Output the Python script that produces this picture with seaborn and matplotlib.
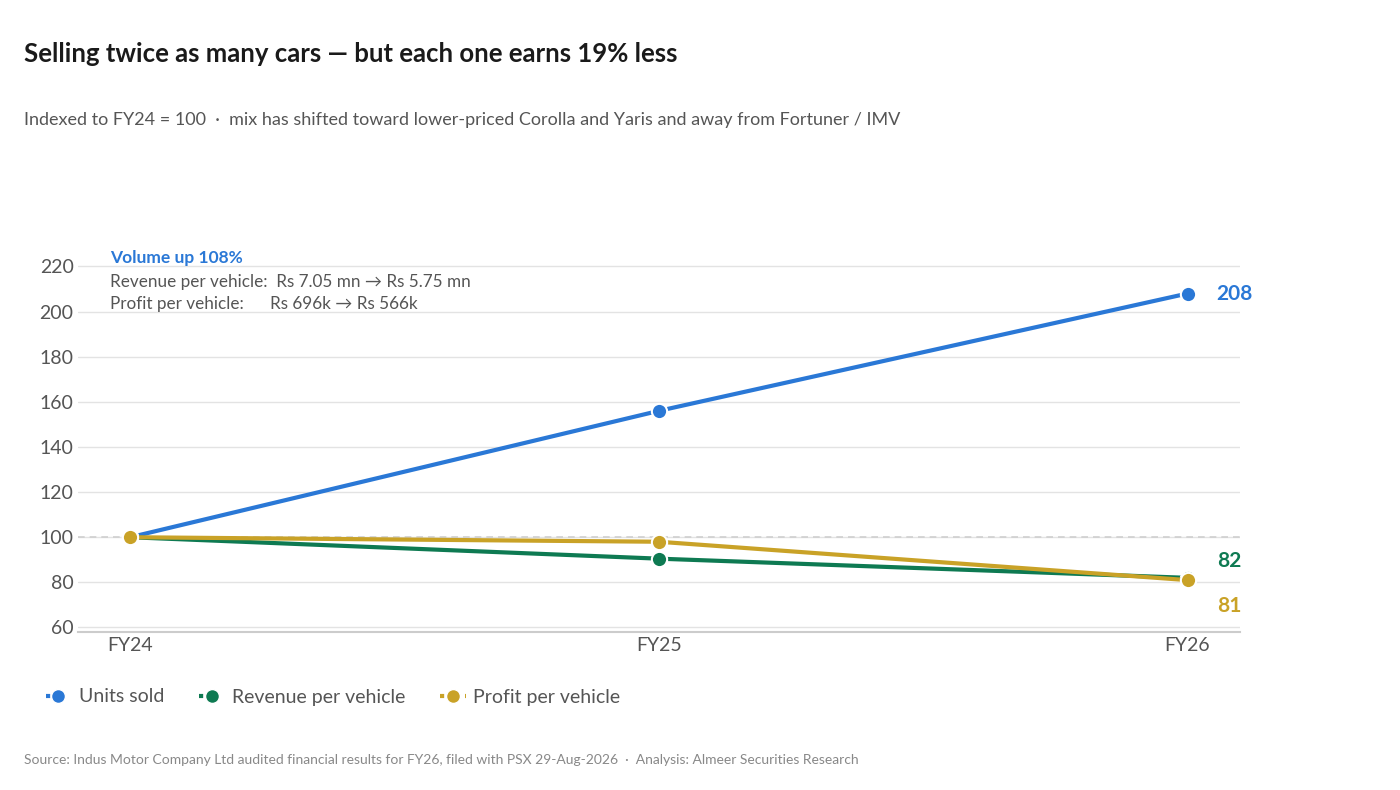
import matplotlib
matplotlib.use("Agg")
import matplotlib.pyplot as plt
import seaborn as sns
import pandas as pd
from matplotlib.lines import Line2D

# datos
years = ["FY24", "FY25", "FY26"]
units_sold = [100, 156, 208]
revenue_per_vehicle = [100, 90.5, 82]
profit_per_vehicle = [100, 98, 81]

series_names = ["Units sold", "Revenue per vehicle", "Profit per vehicle"]
colors = ["#2a78d6", "#0e7a52", "#c9a227"]
end_labels = ["208", "82", "81"]
end_offsets = [0, 12, -19]  # separar 82 y 81

sns.set_theme(style="white")
plt.rcParams["font.family"] = ["Lato", "DejaVu Sans"]

rows = []
for name, vals in zip(series_names, [units_sold, revenue_per_vehicle, profit_per_vehicle]):
    for i, v in enumerate(vals):
        rows.append({"x": i, "year": years[i], "value": v, "series": name})
df = pd.DataFrame(rows)

fig = plt.figure(figsize=(14, 7.9), dpi=100)
ax = fig.add_axes([0.056, 0.2, 0.83, 0.477])

for y in range(60, 221, 20):
    ax.axhline(y, color="#e3e3e3", lw=1, zorder=0)
ax.axhline(100, color="#cfcfcf", lw=1.2, ls=(0, (4, 3)), zorder=0)

sns.lineplot(data=df, x="x", y="value", hue="series", palette=colors,
             hue_order=series_names, lw=3, marker="o", markersize=11,
             markeredgecolor="white", markeredgewidth=1.5, ax=ax, legend=False)

for name, c, lab, off in zip(series_names, colors, end_labels, end_offsets):
    v = df[(df.series == name) & (df.x == 2)]["value"].iloc[0]
    ax.annotate(lab, (2, v), xytext=(21, off), textcoords="offset points",
                color=c, fontsize=15, fontweight="bold", va="center")

ax.set_xlim(-0.098, 2.1)
ax.set_ylim(58, 225)
ax.set_xticks(range(3))
ax.set_xticklabels(years)
ax.set_yticks(range(60, 221, 20))
ax.tick_params(axis="both", labelsize=14, labelcolor="#555555", length=0)
ax.set_xlabel("")
ax.set_ylabel("")
for s in ["top", "right", "left"]:
    ax.spines[s].set_visible(False)
ax.spines["bottom"].set_color("#cccccc")
ax.spines["bottom"].set_linewidth(1.5)

# anotacion
ax.text(-0.038, 221.5, "Volume up 108%", color="#2a78d6", fontsize=12.5, fontweight="bold")
ax.text(-0.038, 211, "Revenue per vehicle:  Rs 7.05 mn \u2192 Rs 5.75 mn", color="#555555", fontsize=12.3)
ax.text(-0.038, 201, "Profit per vehicle:      Rs 696k \u2192 Rs 566k", color="#555555", fontsize=12.3)

fig.text(24/1400, 1 - 54/790, "Selling twice as many cars \u2014 but each one earns 19% less",
         fontsize=18.5, fontweight="bold", color="#1a1a1a", va="center")
fig.text(24/1400, 1 - 120/790,
         "Indexed to FY24 = 100  \u00b7  mix has shifted toward lower-priced Corolla and Yaris and away from Fortuner / IMV",
         fontsize=13, color="#555555", va="center")
fig.text(24/1400, 1 - 760/790,
         "Source: Indus Motor Company Ltd audited financial results for FY26, filed with PSX 29-Aug-2026  \u00b7  Analysis: Almeer Securities Research",
         fontsize=10, color="#888888", va="center")

# leyenda
handles = [Line2D([0], [0], color=c, lw=3, ls=(0, (1, 2)), marker="o", markersize=10,
                  markeredgecolor="white") for c in colors]
fig.legend(handles, series_names, loc="center left", bbox_to_anchor=(28/1400, 1 - 697/790),
           ncol=3, frameon=False, fontsize=14, labelcolor="#555555",
           handlelength=1.3, columnspacing=1.8, handletextpad=0.4)

fig.savefig("out.png", dpi=100)
